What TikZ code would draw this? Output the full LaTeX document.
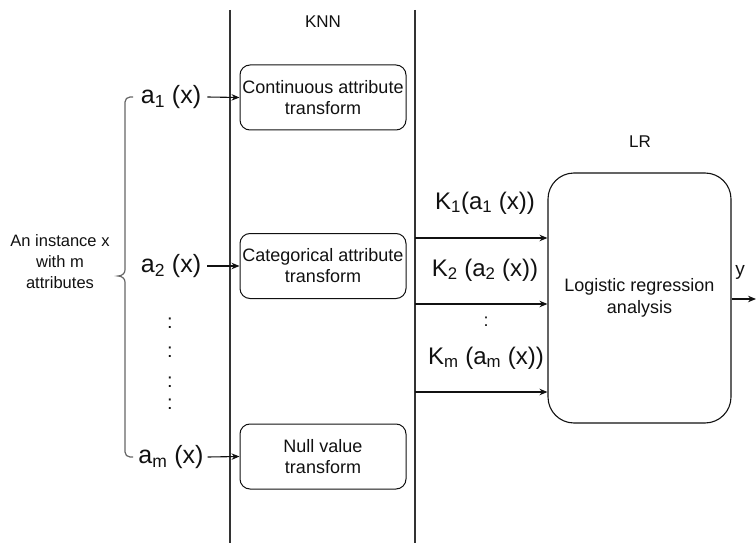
\documentclass[tikz,border=0pt]{standalone}
\usepackage{fontspec}
\setmainfont{Liberation Sans}
\usetikzlibrary{arrows.meta}
\definecolor{ink}{HTML}{111111}
\definecolor{lane}{HTML}{333333}
\definecolor{bracec}{HTML}{666666}
\newcommand\fsz[2]{\fontsize{#1}{#2}\selectfont}
\begin{document}
\begin{tikzpicture}[x=1pt,y=-1pt,
  every node/.style={text=ink,inner sep=0pt},
  lanerule/.style={draw=lane,line width=1.3pt},
  tbox/.style={draw=ink,line width=1pt,rounded corners=10pt,minimum width=166pt,minimum height=65pt,align=center,font=\fsz{18}{21}},
  lrbox/.style={draw=ink,line width=1.1pt,rounded corners=26pt,minimum width=183pt,minimum height=250pt,align=center,font=\fsz{18}{22}},
  attr/.style={font=\fsz{25}{28}},
  klabel/.style={font=\fsz{24}{28}},
  title/.style={font=\fsz{17}{20}},
  flow/.style={draw=ink,line width=1.1pt,-{Stealth[length=8pt,width=6.5pt]}},
  brace/.style={draw=bracec,line width=1.2pt}
]
\useasboundingbox (0,0) rectangle (756,543);

% lane boundaries of the KNN stage
\draw[lanerule] (230,10) -- (230,543);
\draw[lanerule] (415,10) -- (415,543);
\node[title] (knn) at (323,22) {KNN};
\node[title] (lr) at (640,142) {LR};

% input instance
\node[align=center,font=\fsz{16.5}{21}] (inst) at (60,262) {An instance x\\with m\\attributes};

% attribute values
\node[attr] (a1) at (171,97) {a\textsubscript{1} (x)};
\node[attr] (a2) at (171,266) {a\textsubscript{2} (x)};
\node[attr] (am) at (171,457) {a\textsubscript{m} (x)};
\foreach \yy/\nm in {323/d1,352/d2,382/d3,404/d4}
  \node[font=\fsz{20}{22}] (\nm) at (170,\yy) {:};

% curly brace grouping the attributes
\draw[brace] (133,97) -- (130,97) to[out=180,in=90] (125,102) -- (125,270)
  to[out=-90,in=0] (118,276) to[out=0,in=90] (125,282) -- (125,452)
  to[out=-90,in=180] (130,457) -- (133,457);

% KNN transforms
\node[tbox] (t1) at (323,97.5) {Continuous attribute\\transform};
\node[tbox] (t2) at (323,266) {Categorical attribute\\transform};
\node[tbox] (t3) at (323,456.5) {Null value\\transform};

\draw[flow] (a1.east) ++(6pt,0) -- (t1.west);
\draw[flow] (a2.east) ++(6pt,0) -- (t2.west);
\draw[flow] (am.east) ++(4pt,0) -- (t3.west);

% logistic regression stage
\node[lrbox] (lrb) at (639.5,298) {Logistic regression\\analysis};

\coordinate (k1s) at (415,238);
\coordinate (k2s) at (415,304);
\coordinate (kms) at (415,392);
\draw[flow] (k1s) -- (k1s -| lrb.west);
\draw[flow] (k2s) -- (k2s -| lrb.west);
\draw[flow] (kms) -- (kms -| lrb.west);

\node[klabel] (k1) at (485,203) {K\textsubscript{1}(a\textsubscript{1} (x))};
\node[klabel] (k2) at (485,270) {K\textsubscript{2} (a\textsubscript{2} (x))};
\node[font=\fsz{18}{20}] (kd) at (486,322) {:};
\node[klabel] (km) at (486,358) {K\textsubscript{m} (a\textsubscript{m} (x))};

% output
\coordinate (yout) at (756,299);
\draw[flow] (lrb.east |- yout) -- (yout);
\node[font=\fsz{19}{22}] (ylab) at (740,272) {y};
\end{tikzpicture}
\end{document}
